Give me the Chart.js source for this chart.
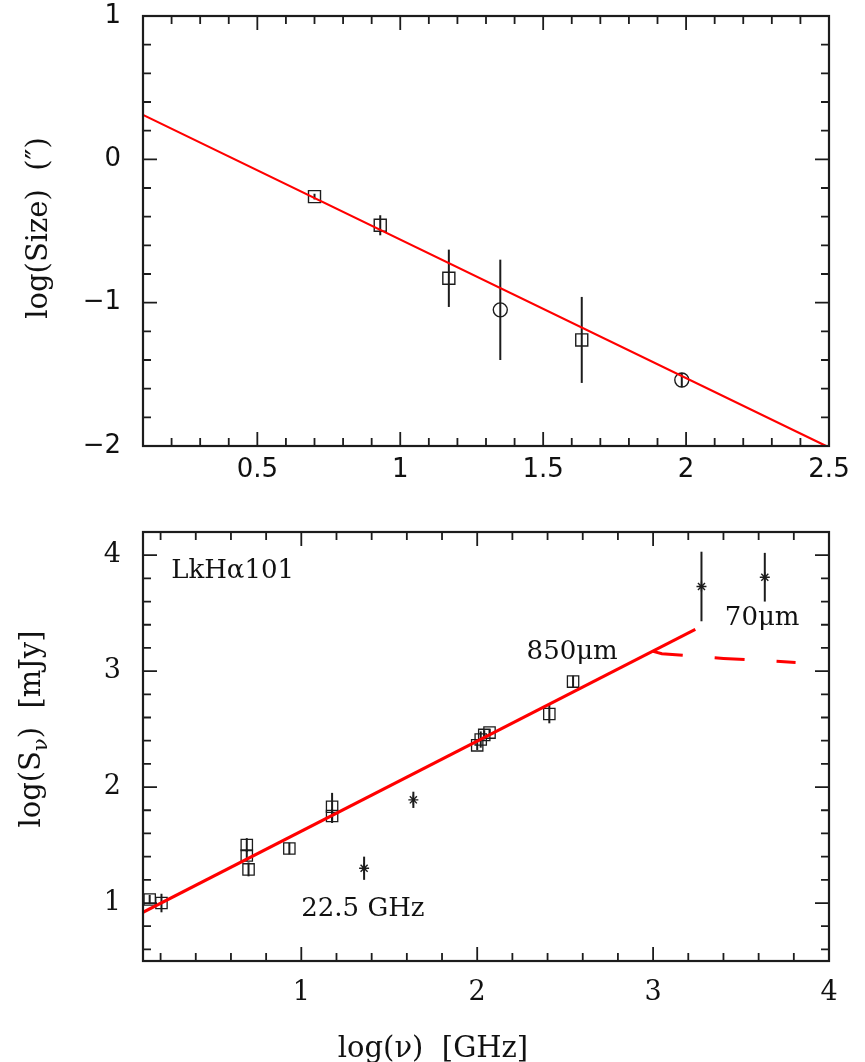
<!DOCTYPE html>
<html lang="en">
<head>
<meta charset="utf-8">
<title>LkHa101 size and SED</title>
<script src="https://cdn.jsdelivr.net/npm/chart.js@4.4.1/dist/chart.umd.min.js"></script>
<style>
  html, body { margin:0; padding:0; background:#fff; }
  #topPanel, #bottomPanel { position:absolute; left:0; width:865px; }
  #topPanel { top:0; height:500px; }
  #bottomPanel { top:500px; height:562px; }
</style>
</head>
<body>
<div id="topPanel"><canvas id="sizeChart" width="865" height="500"></canvas></div>
<div id="bottomPanel"><canvas id="sedChart" width="865" height="562"></canvas></div>
<script>
// ===============================
// TOP PANEL DATA: log(Size) vs log(nu)
// ===============================
const sizeSquareNu  = [0.70, 0.93, 1.17, 1.635];
const sizeSquareVal = [-0.26, -0.46, -0.83, -1.26];
const sizeSquareErr = [0.02, 0.07, 0.20, 0.30];

const sizeCircleNu  = [1.35, 1.985];
const sizeCircleVal = [-1.05, -1.54];
const sizeCircleErr = [0.35, 0.05];

const sizeFitNu  = [0.10, 2.49];
const sizeFitVal = [0.31, -2.00];

const sizeXLabels = [0.5, 1, 1.5, 2, 2.5];
const sizeYLabels = [1, 0, -1, -2];


// ===============================
// BOTTOM PANEL DATA: log(S_nu) vs log(nu)
// ===============================
const sedSquareNu  = [0.138, 0.205, 0.69, 0.69, 0.70, 0.932, 1.175, 1.175, 2.00, 2.02, 2.04, 2.07, 2.41, 2.545];
const sedSquareVal = [1.03, 1.00, 1.50, 1.41, 1.29, 1.47, 1.83, 1.75, 2.36, 2.41, 2.45, 2.47, 2.63, 2.91];
const sedSquareErr = [0.04, 0.08, 0.06, 0.05, 0.06, 0.05, 0.12, 0.06, 0.04, 0.07, 0.04, 0.03, 0.08, 0.05];

const sedStarNu  = [1.357, 1.637, 3.275, 3.635];
const sedStarVal = [1.30, 1.89, 3.73, 3.81];
const sedStarErr = [0.10, 0.07, 0.30, 0.21];

const sedFitNu  = [0.10, 3.24];
const sedFitVal = [0.92, 3.36];

const sedDustNu  = [3.00, 3.05, 3.40, 3.81];
const sedDustVal = [3.17, 3.15, 3.11, 3.075];

const sedNotes = [
  { text: "LkHα101",  nu: 0.26, val: 3.86, align: "left" },
  { text: "850μm",    nu: 2.54, val: 3.16, align: "center" },
  { text: "70μm",     nu: 3.62, val: 3.46, align: "center" },
  { text: "22.5 GHz", nu: 1.35, val: 0.95, align: "center" }
];

const sedXLabels = [1, 2, 3, 4];
const sedYLabels = [1, 2, 3, 4];


// ===============================
// HELPERS
// ===============================
const INK = "#1c1c1c";
const RED = "#ff0000";

function pairs(xs, ys){
  return xs.map((x, i) => ({ x: x, y: ys[i] }));
}

function minus(v){
  return v < 0 ? "\u2212" + Math.abs(v) : String(v);
}

function steps(min, max, step){
  const out = [];
  let v = Math.ceil(min / step - 1e-9);
  while(v * step <= max + 1e-9){
    out.push(+(v * step).toFixed(6));
    v++;
  }
  return out;
}

function drawRich(ctx, parts, cx, cy, size, rot){
  ctx.save();
  ctx.translate(cx, cy);
  ctx.rotate(rot);
  const fontOf = p => (p.sub ? Math.round(size * 0.72) : size) + 'px "DejaVu Serif"';
  let total = 0;
  parts.forEach(p => { ctx.font = fontOf(p); total += ctx.measureText(p.t).width; });
  let x = -total / 2;
  ctx.fillStyle = "#111";
  ctx.textAlign = "left";
  ctx.textBaseline = "alphabetic";
  parts.forEach(p => {
    ctx.font = fontOf(p);
    ctx.fillText(p.t, x, size * 0.35 + (p.sub ? size * 0.25 : 0));
    x += ctx.measureText(p.t).width;
  });
  ctx.restore();
}


// ===============================
// PLUGINS
// ===============================

// error bars, drawn through the chart scales
const errorBarPlugin = {
  id: "errorBars",
  beforeDatasetsDraw(chart){
    const { ctx, chartArea: a } = chart;
    const sx = chart.scales.x, sy = chart.scales.y;
    ctx.save();
    ctx.beginPath();
    ctx.rect(a.left, a.top, a.right - a.left, a.bottom - a.top);
    ctx.clip();
    ctx.strokeStyle = INK;
    ctx.lineWidth = 2;
    chart.data.datasets.forEach(ds => {
      if(!ds.yErr) return;
      ds.data.forEach((p, k) => {
        const e = ds.yErr[k];
        if(!e) return;
        const px = sx.getPixelForValue(p.x);
        ctx.beginPath();
        ctx.moveTo(px, sy.getPixelForValue(p.y - e));
        ctx.lineTo(px, sy.getPixelForValue(p.y + e));
        ctx.stroke();
      });
    });
    ctx.restore();
  }
};

// box with inward ticks on all four sides
const framePlugin = {
  id: "frame",
  afterDatasetsDraw(chart, args, o){
    if(!o || !o.xMajor) return;
    const { ctx, chartArea: a } = chart;
    const sx = chart.scales.x, sy = chart.scales.y;
    const isMajor = (list, v) => list.some(m => Math.abs(m - v) < 1e-6);
    ctx.save();
    ctx.strokeStyle = INK;
    ctx.lineWidth = 1.8;
    ctx.beginPath();
    steps(sx.min, sx.max, o.xMinor).forEach(v => {
      const len = isMajor(o.xMajor, v) ? o.major : o.minor;
      const px = sx.getPixelForValue(v);
      ctx.moveTo(px, a.bottom); ctx.lineTo(px, a.bottom - len);
      ctx.moveTo(px, a.top);    ctx.lineTo(px, a.top + len);
    });
    steps(sy.min, sy.max, o.yMinor).forEach(v => {
      const len = isMajor(o.yMajor, v) ? o.major : o.minor;
      const py = sy.getPixelForValue(v);
      ctx.moveTo(a.left, py);  ctx.lineTo(a.left + len, py);
      ctx.moveTo(a.right, py); ctx.lineTo(a.right - len, py);
    });
    ctx.stroke();
    ctx.lineWidth = 2.2;
    ctx.strokeRect(a.left, a.top, a.right - a.left, a.bottom - a.top);
    ctx.restore();
  }
};

// axis titles (y rotated), with subscript support
const titlePlugin = {
  id: "axisTitles",
  afterDraw(chart, args, o){
    if(!o) return;
    const ctx = chart.ctx;
    (o.items || []).forEach(t => {
      drawRich(ctx, t.parts, t.x, t.y, t.size, t.rot || 0);
    });
  }
};

// text notes placed in data units
const notesPlugin = {
  id: "notes",
  afterDatasetsDraw(chart, args, o){
    if(!o || !o.list) return;
    const ctx = chart.ctx;
    const sx = chart.scales.x, sy = chart.scales.y;
    ctx.save();
    ctx.fillStyle = "#111";
    ctx.font = o.size + 'px "DejaVu Serif"';
    ctx.textBaseline = "middle";
    o.list.forEach(n => {
      ctx.textAlign = n.align;
      ctx.fillText(n.text, sx.getPixelForValue(n.nu), sy.getPixelForValue(n.val));
    });
    ctx.restore();
  }
};

Chart.register(errorBarPlugin, framePlugin, titlePlugin, notesPlugin);
Chart.defaults.color = "#111";
Chart.defaults.font.family = '"DejaVu Serif", serif';


// ===============================
// SCALES
// ===============================
function axisX(min, max, labels, font, pad, height){
  return {
    type: "linear", min: min, max: max,
    grid: { display: false, drawTicks: false },
    border: { display: false },
    ticks: { font: font, padding: pad, maxRotation: 0, autoSkip: false, callback: v => minus(v) },
    afterBuildTicks: s => { s.ticks = labels.map(v => ({ value: v })); },
    afterFit: s => { s.height = height; s.paddingLeft = 0; s.paddingRight = 0; }
  };
}

function axisY(min, max, labels, font, pad){
  return {
    type: "linear", min: min, max: max,
    grid: { display: false, drawTicks: false },
    border: { display: false },
    ticks: { font: font, padding: pad, autoSkip: false, callback: v => minus(v) },
    afterBuildTicks: s => { s.ticks = labels.map(v => ({ value: v })); },
    afterFit: s => { s.width = 143; s.paddingTop = 0; s.paddingBottom = 0; }
  };
}


// ===============================
// TOP CHART
// ===============================
const sansTick = { family: '"DejaVu Sans", sans-serif', size: 26 };
const serifTick = { family: '"DejaVu Serif", serif', size: 27 };

new Chart(document.getElementById("sizeChart"), {
  type: "scatter",
  data: {
    datasets: [
      {
        data: pairs(sizeFitNu, sizeFitVal),
        showLine: true, borderColor: RED, borderWidth: 2.2, pointRadius: 0
      },
      {
        data: pairs(sizeSquareNu, sizeSquareVal), yErr: sizeSquareErr,
        pointStyle: "rect", pointRadius: 8.5,
        borderColor: INK, backgroundColor: "rgba(0,0,0,0)", pointBorderWidth: 1.4
      },
      {
        data: pairs(sizeCircleNu, sizeCircleVal), yErr: sizeCircleErr,
        pointStyle: "circle", pointRadius: 7,
        borderColor: INK, backgroundColor: "rgba(0,0,0,0)", pointBorderWidth: 1.4
      }
    ]
  },
  options: {
    responsive: false,
    animation: false,
    layout: { padding: { top: 16, right: 36, left: 0, bottom: 0 } },
    scales: {
      x: axisX(0.1, 2.5, sizeXLabels, sansTick, 9, 54),
      y: axisY(-2, 1, sizeYLabels, sansTick, 22)
    },
    plugins: {
      legend: { display: false },
      tooltip: { enabled: false },
      frame: { xMajor: sizeXLabels, xMinor: 0.1, yMajor: sizeYLabels, yMinor: 0.2, major: 14, minor: 8 },
      axisTitles: { items: [
        { parts: [{ t: "log(Size)  (\u2033)" }], x: 37, y: 228, size: 29, rot: -Math.PI / 2 }
      ] }
    }
  }
});


// ===============================
// BOTTOM CHART
// ===============================
new Chart(document.getElementById("sedChart"), {
  type: "scatter",
  data: {
    datasets: [
      {
        data: pairs(sedFitNu, sedFitVal),
        showLine: true, borderColor: RED, borderWidth: 3, pointRadius: 0
      },
      {
        data: pairs(sedDustNu, sedDustVal),
        showLine: true, borderColor: RED, borderWidth: 3, borderDash: [30, 32], pointRadius: 0
      },
      {
        data: pairs(sedSquareNu, sedSquareVal), yErr: sedSquareErr,
        pointStyle: "rect", pointRadius: 8,
        borderColor: INK, backgroundColor: "rgba(0,0,0,0)", pointBorderWidth: 1.3
      },
      {
        data: pairs(sedStarNu, sedStarVal), yErr: sedStarErr,
        pointStyle: "star", pointRadius: 5,
        borderColor: INK, backgroundColor: "rgba(0,0,0,0)", pointBorderWidth: 1.4
      }
    ]
  },
  options: {
    responsive: false,
    animation: false,
    layout: { padding: { top: 32, right: 36, left: 0, bottom: 0 } },
    scales: {
      x: axisX(0.1, 4, sedXLabels, serifTick, 16, 101),
      y: axisY(0.5, 4.2, sedYLabels, serifTick, 22)
    },
    plugins: {
      legend: { display: false },
      tooltip: { enabled: false },
      frame: { xMajor: sedXLabels, xMinor: 0.2, yMajor: sedYLabels, yMinor: 0.2, major: 14, minor: 8 },
      notes: { list: sedNotes, size: 26 },
      axisTitles: { items: [
        { parts: [{ t: "log(S" }, { t: "ν", sub: true }, { t: ")  [mJy]" }], x: 30, y: 229, size: 29, rot: -Math.PI / 2 },
        { parts: [{ t: "log(ν)  [GHz]" }], x: 433, y: 547, size: 29, rot: 0 }
      ] }
    }
  }
});
</script>
</body>
</html>
